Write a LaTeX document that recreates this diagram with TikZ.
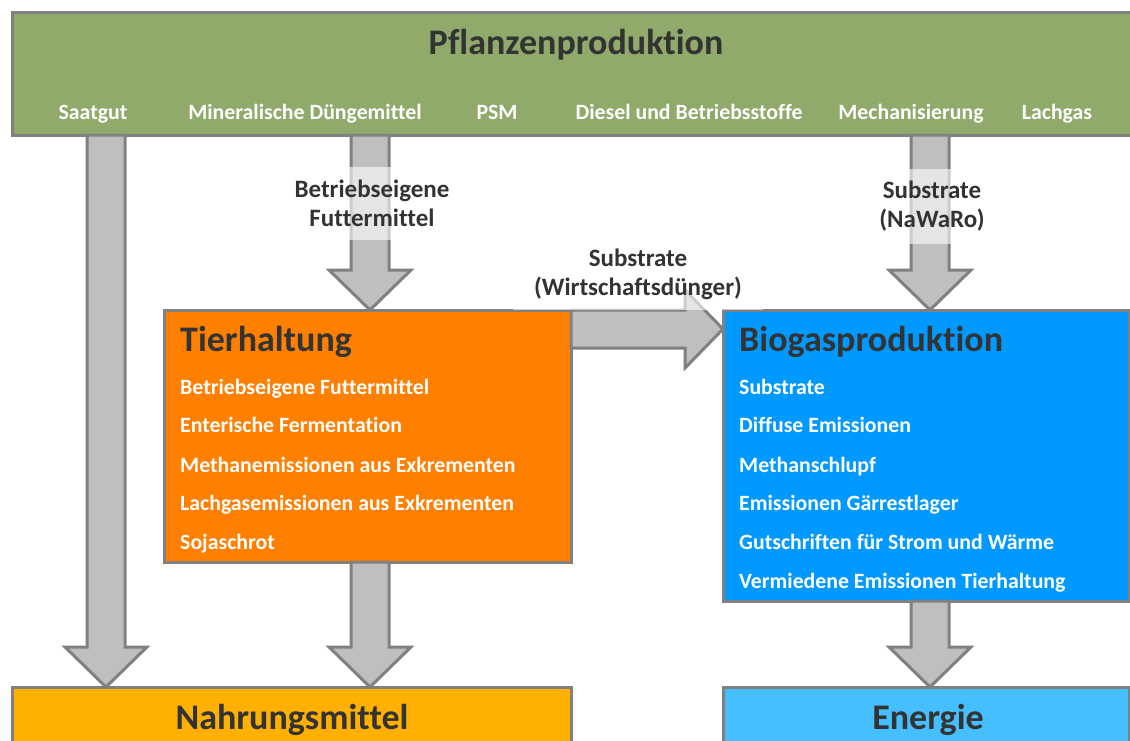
\documentclass[tikz,border=0pt]{standalone}
\usepackage{fontspec}
\setmainfont{Carlito}[Ligatures={NoCommon}]
\usetikzlibrary{calc}
\definecolor{pgreen}{HTML}{8FAA6B}
\definecolor{torange}{HTML}{FF8000}
\definecolor{bblue}{HTML}{0099FF}
\definecolor{eblue}{HTML}{45BFFF}
\definecolor{nyellow}{HTML}{FFB000}
\definecolor{bordergray}{HTML}{808080}
\definecolor{arrowfill}{HTML}{BFBFBF}
\definecolor{titlegray}{HTML}{333333}
\newcommand\vblock[2]{%
  \draw[blockarrow] let \p1=(#1), \p2=(#2) in
    (\x1-19pt,\y1) -- (\x1-19pt,\y2+40pt) -- (\x1-41pt,\y2+40pt) -- (\x2,\y2)
    -- (\x1+41pt,\y2+40pt) -- (\x1+19pt,\y2+40pt) -- (\x1+19pt,\y1) -- cycle;}
\newcommand\hblock[2]{%
  \draw[blockarrow] let \p1=(#1), \p2=(#2) in
    (\x1,\y1+19pt) -- (\x2-38pt,\y1+19pt) -- (\x2-38pt,\y1+39pt) -- (\x2,\y2)
    -- (\x2-38pt,\y1-39pt) -- (\x2-38pt,\y1-19pt) -- (\x1,\y1-19pt) -- cycle;}
\begin{document}
\begin{tikzpicture}[x=1pt,y=-1pt,
  box/.style={draw=bordergray, line width=3pt, rectangle, inner sep=0pt, outer sep=0pt, anchor=north west},
  blockarrow/.style={draw=bordergray, fill=arrowfill, line width=3pt, line join=miter},
  bigtitle/.style={font=\fontsize{36}{40}\selectfont\bfseries, text=titlegray, inner sep=0pt,
    text height=0.75em, text depth=0.25em},
  item/.style={font=\fontsize{21.8}{25}\selectfont\bfseries, text=white, inner sep=0pt, anchor=west,
    text height=0.75em, text depth=0.25em},
  hitem/.style={font=\fontsize{21.8}{25}\selectfont\bfseries, text=white, inner sep=0pt,
    text height=0.75em, text depth=0.25em},
  flowlabel/.style={font=\fontsize{25}{29}\selectfont\bfseries, text=titlegray, align=center,
    fill=white, fill opacity=0.6, text opacity=1, inner sep=0pt},
]
\useasboundingbox (0,0) rectangle (1130,740);
\fill[white] (0,0) rectangle (1130,740);

% boxes
\node[box, fill=pgreen, minimum width=1125, minimum height=123] (pfl) at (12,12) {};
\node[box, fill=torange, minimum width=407, minimum height=252] (tier) at (164,310) {};
\node[box, fill=bblue, minimum width=406, minimum height=291] (bio) at (723,310) {};
\node[box, fill=nyellow, minimum width=559, minimum height=80] (nah) at (12,687) {};
\node[box, fill=eblue, minimum width=406, minimum height=80] (ene) at (723,687) {};

% texts in Pflanzenproduktion
\node[bigtitle] (pfltitle) at (576,52) {Pflanzenproduktion};
\node[hitem] (h1) at (93,117) {Saatgut};
\node[hitem] (h2) at (305,117) {Mineralische Düngemittel};
\node[hitem] (h3) at (497,117) {PSM};
\node[hitem] (h4) at (689,117) {Diesel und Betriebsstoffe};
\node[hitem] (h5) at (911,117) {Mechanisierung};
\node[hitem] (h6) at (1057,117) {Lachgas};

% Tierhaltung
\node[bigtitle, anchor=west] (tiertitle) at (180,349) {Tierhaltung};
\node[item] (t1) at (180,392) {Betriebseigene Futtermittel};
\node[item] (t2) at (180,430) {Enterische Fermentation};
\node[item] (t3) at (180,470) {Methanemissionen aus Exkrementen};
\node[item] (t4) at (180,508) {Lachgasemissionen aus Exkrementen};
\node[item] (t5) at (180,547) {Sojaschrot};

% Biogasproduktion
\node[bigtitle, anchor=west] (biotitle) at (739,349) {Biogasproduktion};
\node[item] (b1) at (739,392) {Substrate};
\node[item] (b2) at (739,430) {Diffuse Emissionen};
\node[item] (b3) at (739,470) {Methanschlupf};
\node[item] (b4) at (739,508) {Emissionen Gärrestlager};
\node[item] (b5) at (739,547) {Gutschriften für Strom und Wärme};
\node[item] (b6) at (739,586) {Vermiedene Emissionen Tierhaltung};

% bottom titles
\node[bigtitle] (nahtitle) at (292,727) {Nahrungsmittel};
\node[bigtitle] (enetitle) at (928,727) {Energie};

% arrow positions
\coordinate (x1) at (106,0);
\coordinate (x2) at (370,0);
\coordinate (x3) at (930,0);
\coordinate (hy) at (0,329);

% arrows
\vblock{pfl.south -| x1}{nah.north -| x1}
\vblock{pfl.south -| x2}{tier.north -| x2}
\vblock{tier.south -| x2}{nah.north -| x2}
\vblock{pfl.south -| x3}{bio.north -| x3}
\vblock{bio.south -| x3}{ene.north -| x3}
\hblock{tier.east |- hy}{bio.west |- hy}

% flow labels
\node[flowlabel, minimum width=215, minimum height=73] (l1) at (372,203) {Betriebseigene\\Futtermittel};
\node[flowlabel, minimum width=215, minimum height=75] (l2) at (932,206) {Substrate\\(NaWaRo)};
\node[flowlabel, minimum width=250, minimum height=71] (l3) at (638,274) {Substrate\\(Wirtschaftsdünger)};
\end{tikzpicture}
\end{document}
